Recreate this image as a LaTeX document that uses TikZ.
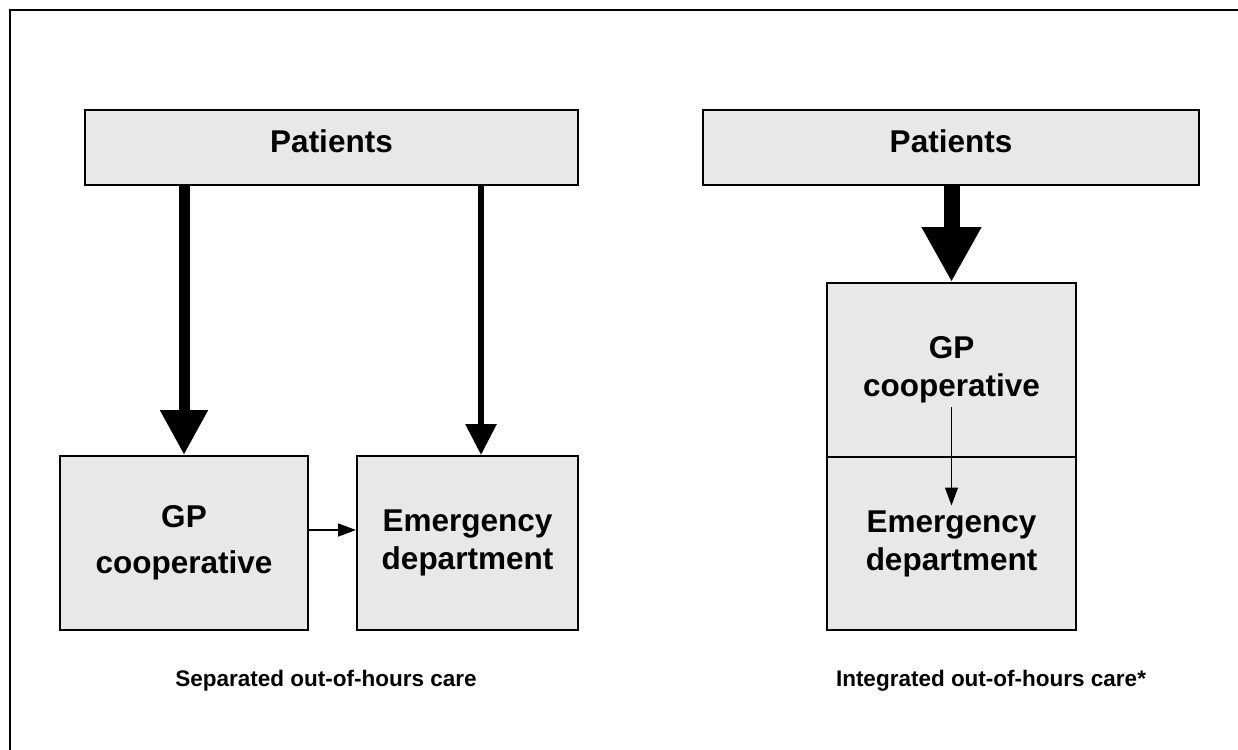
\documentclass[tikz,border=0pt]{standalone}
\usepackage{fontspec}
\setmainfont{Liberation Sans}
\usetikzlibrary{arrows.meta,calc}
\definecolor{boxfill}{HTML}{E8E8E8}
\begin{document}
\begin{tikzpicture}[x=1pt,y=-1pt,
  box/.style={draw=black,line width=2pt,fill=boxfill,rectangle,inner sep=0pt,align=center,
    font=\fontsize{31.5}{38}\selectfont\bfseries},
  topbox/.style={box,text depth=12pt},
  caption/.style={inner sep=0pt,font=\fontsize{22.5}{27}\selectfont\bfseries},
  bigarrow/.style={line width=11pt,-{Triangle[width=45pt,length=45pt]}},
  hugearrow/.style={line width=16pt,-{Triangle[width=56pt,length=55pt]}},
  midarrow/.style={line width=6pt,-{Triangle[width=30pt,length=31pt]}},
  smallarrow/.style={line width=1.6pt,-{Triangle[width=13pt,length=18pt]}}
]
\useasboundingbox (0,0) rectangle (1238,749);
\draw[line width=2pt] (10,760) -- (10,10) -- (1250,10);

\node[topbox,minimum width=493pt,minimum height=75pt] (pl) at (331.5,147.5) {Patients};
\node[topbox,minimum width=496pt,minimum height=75pt] (pr) at (951,147.5) {Patients};

\node[box,minimum width=248pt,minimum height=174pt] (gp1) at (184,543) {GP\\[8pt]cooperative};
\node[box,minimum width=221pt,minimum height=174pt] (ed1) at (467.5,543) {Emergency\\department};

\node[box,minimum width=249pt,minimum height=174pt] (gp2) at (951.5,370) {GP\\cooperative};
\node[box,minimum width=249pt,minimum height=173pt] (ed2) at (951.5,543.5) {Emergency\\department};

\draw[bigarrow] (gp1.north |- pl.south) -- (gp1.north);
\draw[midarrow] ([xshift=13.5pt]ed1.north |- pl.south) -- ([xshift=13.5pt]ed1.north);
\draw[smallarrow] ([yshift=13pt]gp1.east) -- ([yshift=13pt]gp1.east -| ed1.west);

\draw[hugearrow] (gp2.north |- pr.south) -- (gp2.north);
\draw[smallarrow] ([yshift=-37pt]gp2.center) -- ([yshift=38pt]ed2.center);

\node[caption] (c1) at (326,681) {Separated out-of-hours care};
\node[caption] (c2) at (991,681) {Integrated out-of-hours care*};
\end{tikzpicture}
\end{document}
